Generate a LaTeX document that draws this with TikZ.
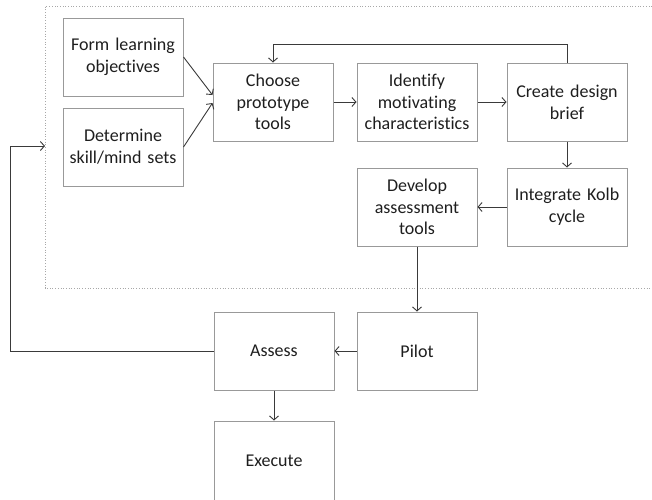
\documentclass[tikz,border=0pt]{standalone}
\usepackage{fontspec}
\setmainfont{Carlito}[Ligatures=CommonOff]
\usetikzlibrary{arrows.meta}
\definecolor{boxgrey}{HTML}{999999}
\definecolor{linegrey}{HTML}{3A3A3A}
\definecolor{textgrey}{HTML}{1E1E1E}
\definecolor{dotgrey}{HTML}{A8A8A8}
\begin{document}
\begin{tikzpicture}[x=1pt,y=-1pt,
  box/.style={draw=boxgrey, line width=1pt, minimum width=120pt, minimum height=78pt,
    inner sep=0pt, align=center, text width=118pt, text=textgrey,
    font=\fontsize{18}{21.7}\selectfont},
  conn/.style={draw=linegrey, line width=0.9pt, -{Straight Barb[length=4pt,width=9pt]}},
  frame/.style={draw=dotgrey, dotted, line width=0.7pt}]
\useasboundingbox (0,0) rectangle (652,499);
% dotted region
\draw[frame] (660,6) -- (45,6) -- (45,288) -- (660,288);
\coordinate (fin) at (45,146);
\coordinate (lb) at (10,351);
% nodes
\node[box] (form) at (123,57) {Form learning\\objectives};
\node[box] (det) at (123,147) {Determine\\skill/mind sets};
\node[box] (choose) at (273,102) {Choose\\prototype\\tools};
\node[box] (ident) at (417,102) {Identify\\motivating\\characteristics};
\node[box] (create) at (567,102) {Create design\\brief};
\node[box] (kolb) at (567,207) {Integrate Kolb\\cycle};
\node[box] (dev) at (417,207) {Develop\\assessment\\tools};
\node[box] (pilot) at (417,351) {Pilot};
\node[box] (assess) at (274,351) {Assess};
\node[box, minimum height=80pt] (exec) at (274,461) {Execute};
% connectors
\draw[conn] (form.east) -- ([yshift=7pt]choose.west);
\draw[conn] (det.east) -- ([yshift=-1pt]choose.west);
\draw[conn] (choose.east) -- (ident.west);
\draw[conn] (ident.east) -- (create.west);
\draw[conn] (create.north) -- ++(0,-18) -| (choose.north);
\draw[conn] (create.south) -- (kolb.north);
\draw[conn] (kolb.west) -- (dev.east);
\draw[conn] (dev.south) -- (pilot.north);
\draw[conn] (pilot.west) -- (assess.east);
\draw[conn] (assess.south) -- (exec.north);
\draw[conn] (assess.west) -- (lb) |- (fin);
\end{tikzpicture}
\end{document}
